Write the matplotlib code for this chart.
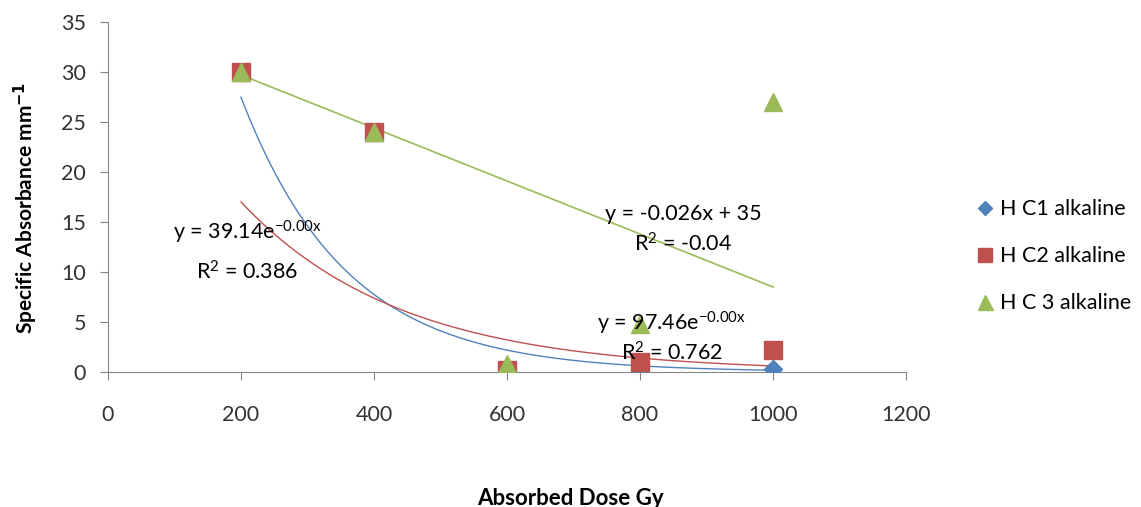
import numpy as np
import matplotlib
matplotlib.use("Agg")
import matplotlib.pyplot as plt

plt.rcParams["font.family"] = ["Lato", "DejaVu Sans"]
plt.rcParams["mathtext.default"] = "regular"

# data
dose = [200, 400, 600, 800, 1000]
hc1 = [30.0, 24.0, 0.3, 0.1, 0.3]
hc2 = [30.0, 24.0, 0.2, 1.0, 2.2]
hc3 = [30.0, 24.0, 0.8, 4.8, 27.0]

labels = ["H C1 alkaline", "H C2 alkaline", "H C 3 alkaline"]
colors = ["#4F81BD", "#C0504D", "#9BBB59"]

# trendline coefficients (exponents estimated from the drawn curves)
exp1_a, exp1_k = 97.46, 0.00633
exp2_a, exp2_k = 39.14, 0.00417
lin3_m, lin3_b = -0.0265, 35.0

fig = plt.figure(figsize=(11.41, 5.07), dpi=100)
ax = fig.add_axes([0.0947, 0.2663, 0.6993, 0.6903])

xs = np.linspace(dose[0], dose[-1], 200)
ax.plot(xs, exp1_a * np.exp(-exp1_k * xs), color=colors[0], lw=1, zorder=2)
ax.plot(xs, exp2_a * np.exp(-exp2_k * xs), color=colors[1], lw=1, zorder=2)
ax.plot(xs, lin3_m * xs + lin3_b, color=colors[2], lw=1.2, zorder=2)

ax.plot(dose, hc1, ls="none", marker="D", ms=9.5, color=colors[0], label=labels[0], zorder=3)
ax.plot(dose, hc2, ls="none", marker="s", ms=12.5, color=colors[1], label=labels[1], zorder=4)
ax.plot(dose, hc3, ls="none", marker="^", ms=13.5, color=colors[2], label=labels[2], zorder=5)

fs = 15.5
ax.text(210, 14.0, "y = 39.14e$^{-0.00x}$", ha="center", va="center", fontsize=fs, zorder=6)
ax.text(210, 10.0, "R$^{2}$ = 0.386", ha="center", va="center", fontsize=fs, zorder=6)
ax.text(865, 15.8, "y = -0.026x + 35", ha="center", va="center", fontsize=fs, zorder=6)
ax.text(865, 12.8, "R$^{2}$ = -0.04", ha="center", va="center", fontsize=fs, zorder=6)
ax.text(848, 4.9, "y = 97.46e$^{-0.00x}$", ha="center", va="center", fontsize=fs, zorder=6)
ax.text(848, 1.9, "R$^{2}$ = 0.762", ha="center", va="center", fontsize=fs, zorder=6)

ax.set_xlim(0, 1200)
ax.set_ylim(0, 35)
ax.set_xticks(range(0, 1201, 200))
ax.set_yticks(range(0, 36, 5))
ax.tick_params(labelsize=15.5, color="#868686", length=6, labelcolor="#333333")
ax.tick_params(axis="y", pad=10)
ax.tick_params(axis="x", pad=18)
for s in ["top", "right"]:
    ax.spines[s].set_visible(False)
for s in ["left", "bottom"]:
    ax.spines[s].set_color("#868686")

ax.set_ylabel("Specific Absorbance mm$^{\\mathbf{-1}}$", fontsize=15, fontweight="bold")
ax.yaxis.label.set_va("center")
ax.yaxis.set_label_coords(-0.103, 0.47)
ax.set_xlabel("Absorbed Dose Gy", fontsize=16, fontweight="bold")
ax.xaxis.label.set_va("center")
ax.xaxis.set_label_coords(0.58, -0.362)

fig.legend(loc="upper left", bbox_to_anchor=(0.835, 0.645), frameon=False,
           fontsize=15.5, handletextpad=0.1, labelspacing=1.25, handlelength=1.2,
           markerscale=0.8)

plt.savefig("out.png", dpi=100)
